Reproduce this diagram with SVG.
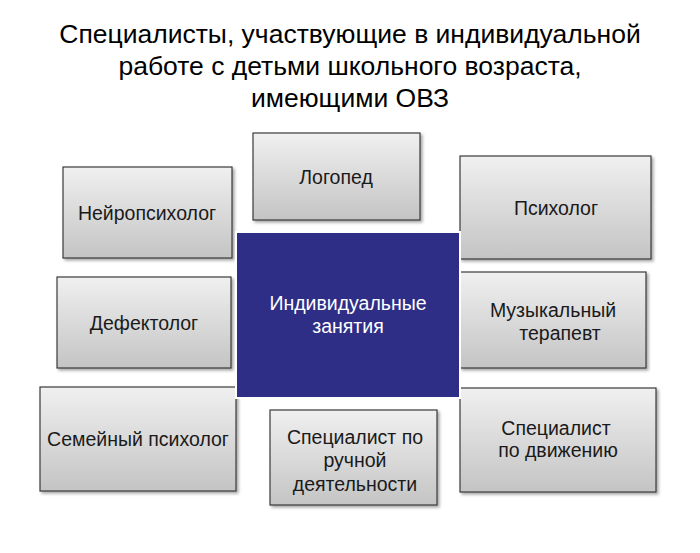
<svg xmlns="http://www.w3.org/2000/svg" width="700" height="553" viewBox="0 0 700 553">
<defs>
<linearGradient id="g" x1="0" y1="0" x2="0" y2="1"><stop offset="0" stop-color="#f0f0f0"/><stop offset="1" stop-color="#c4c4c4"/></linearGradient>
<filter id="s" x="-10%" y="-10%" width="130%" height="130%"><feDropShadow dx="2" dy="2" stdDeviation="1.5" flood-color="#000" flood-opacity="0.35"/></filter>
</defs>
<style>
.b{fill:url(#g);stroke:#3a3a3a;stroke-width:1.2;filter:url(#s)}
.t{font-family:"Liberation Sans",Arial,sans-serif;font-size:19.5px;fill:#1a1a1a;text-anchor:middle}
.h{font-family:"Liberation Sans",Arial,sans-serif;font-size:26.5px;fill:#000;text-anchor:middle}
</style>
<rect width="700" height="553" fill="#fff"/>
<g id="title">
<text class="h" x="350" y="43">Специалисты, участвующие в индивидуальной</text>
<text class="h" x="350" y="75">работе с детьми школьного возраста,</text>
<text class="h" x="350" y="107">имеющими ОВЗ</text>
</g>
<g id="logoped"><rect class="b" x="253" y="133" width="167" height="87"/><text class="t" x="336" y="184">Логопед</text></g>
<g id="neuro"><rect class="b" x="63" y="167" width="169" height="91"/><text class="t" x="147" y="220">Нейропсихолог</text></g>
<g id="psych"><rect class="b" x="460" y="156" width="191" height="103"/><text class="t" x="556" y="215">Психолог</text></g>
<g id="defect"><rect class="b" x="57" y="277" width="174" height="91"/><text class="t" x="144" y="330">Дефектолог</text></g>
<g id="music"><rect class="b" x="460" y="272" width="186" height="96"/><text class="t" x="553" y="317">Музыкальный</text><text class="t" x="560" y="340">терапевт</text></g>
<g id="family"><rect class="b" x="40" y="387" width="196" height="104"/><text class="t" x="138" y="446">Семейный психолог</text></g>
<g id="manual"><rect class="b" x="270" y="410" width="167" height="95"/><text class="t" x="355" y="444">Специалист по</text><text class="t" x="355" y="467">ручной</text><text class="t" x="355" y="491">деятельности</text></g>
<g id="motion"><rect class="b" x="460" y="388" width="196" height="104"/><text class="t" x="556" y="435">Специалист</text><text class="t" x="558" y="457">по движению</text></g>
<g id="center"><rect x="236" y="232" width="224" height="166" fill="#2e2e86" stroke="#ffffff" stroke-width="2"/><text class="t" x="348" y="310" style="fill:#fff">Индивидуальные</text><text class="t" x="348" y="333" style="fill:#fff">занятия</text></g>
<g id="connectors"/>
</svg>
